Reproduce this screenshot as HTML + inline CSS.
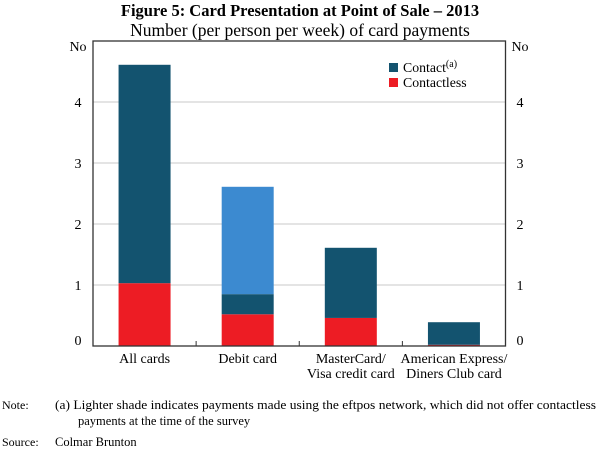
<!DOCTYPE html>
<html><head><meta charset="utf-8"><style>
body{margin:0;width:600px;height:451px;background:#fff;font-family:"Liberation Serif",serif;color:#000;overflow:hidden}
</style></head><body>
<svg id="c" width="600" height="451" xmlns="http://www.w3.org/2000/svg" font-family="Liberation Serif, serif">
<text x="300" y="16" text-anchor="middle" font-size="16.5" font-weight="bold">Figure 5: Card Presentation at Point of Sale – 2013</text>
<text x="300" y="36" text-anchor="middle" font-size="17.5">Number (per person per week) of card payments</text>
<g id="grid"></g><g id="bars"></g>
<rect x="93" y="41" width="412.5" height="305" fill="none" stroke="#333" stroke-width="1.3"/>
<text x="78" y="51" text-anchor="middle" font-size="14">No</text>
<text x="520" y="51" text-anchor="middle" font-size="14">No</text>
<g id="axes"></g>
<g>
<rect x="389" y="63" width="9" height="9" fill="#13536f"/>
<text x="403" y="72" font-size="13.8">Contact<tspan dy="-5" font-size="10">(a)</tspan></text>
<rect x="389" y="78" width="9" height="9" fill="#ed1c24"/>
<text x="403" y="87" font-size="13.8">Contactless</text>
</g>
<text x="2" y="409" font-size="12">Note:</text>
<text x="55" y="409" font-size="12.5" textLength="541" lengthAdjust="spacingAndGlyphs">(a) Lighter shade indicates payments made using the eftpos network, which did not offer contactless</text>
<text x="78" y="425" font-size="12.5">payments at the time of the survey</text>
<text x="2" y="446" font-size="12">Source:</text>
<text x="55" y="446" font-size="12.5">Colmar Brunton</text>
</svg>
<script>
const categories=["All cards","Debit card","MasterCard/|Visa credit card","American Express/|Diners Club card"];
const contactless=[1.03,0.52,0.46,0.02];
const contactDark=[3.58,0.33,1.15,0.37];
const contactEftpos=[0,1.76,0,0];
const yTicks=[0,1,2,3,4];
const NS="http://www.w3.org/2000/svg";
const x0=93,x1=505.5,yb=346,pxu=61;
const y=v=>yb-v*pxu;
const bw=(x1-x0)/categories.length;
const xc=i=>x0+bw*(i+0.5);
function mk(p,tag,a){const e=document.createElementNS(NS,tag);for(const k in a)e.setAttribute(k,a[k]);document.getElementById(p).appendChild(e);return e;}
yTicks.forEach(t=>{
 if(t>0){const g=mk('grid','line',{x1:x0,x2:x1,y1:y(t),y2:y(t),stroke:'#c8c8c8','stroke-width':1});
 
 }
 const ly=(t===0?y(t)-6:y(t))+5;
 const l=mk('axes','text',{x:78,y:ly,'text-anchor':'middle','font-size':14});l.textContent=t;
 
 
 const r=mk('axes','text',{x:520,y:ly,'text-anchor':'middle','font-size':14});r.textContent=t;
 
 
});
categories.forEach((c,i)=>{
 const w=52,xl=xc(i)-w/2;
 let base=0;
 [[contactless[i],'#ed1c24','contactless'],[contactDark[i],'#13536f','contact'],[contactEftpos[i],'#3c8ad0','contact-eftpos']].forEach(([v,col,n])=>{
  if(v<=0)return;
  const r=mk('bars','rect',{x:xl,y:y(base+v),width:w,height:v*pxu,fill:col});
  
  
  base+=v;
 });
 if(i>0){const tk=mk('axes','line',{x1:x0+bw*i,x2:x0+bw*i,y1:yb,y2:yb-5,stroke:'#333'});
 
 }
 c.split('|').forEach((ln,j)=>{
  const t=mk('axes','text',{x:xc(i),y:363+j*15,'text-anchor':'middle','font-size':14});t.textContent=ln;
  
  
 });
});
</script>
</body></html>
